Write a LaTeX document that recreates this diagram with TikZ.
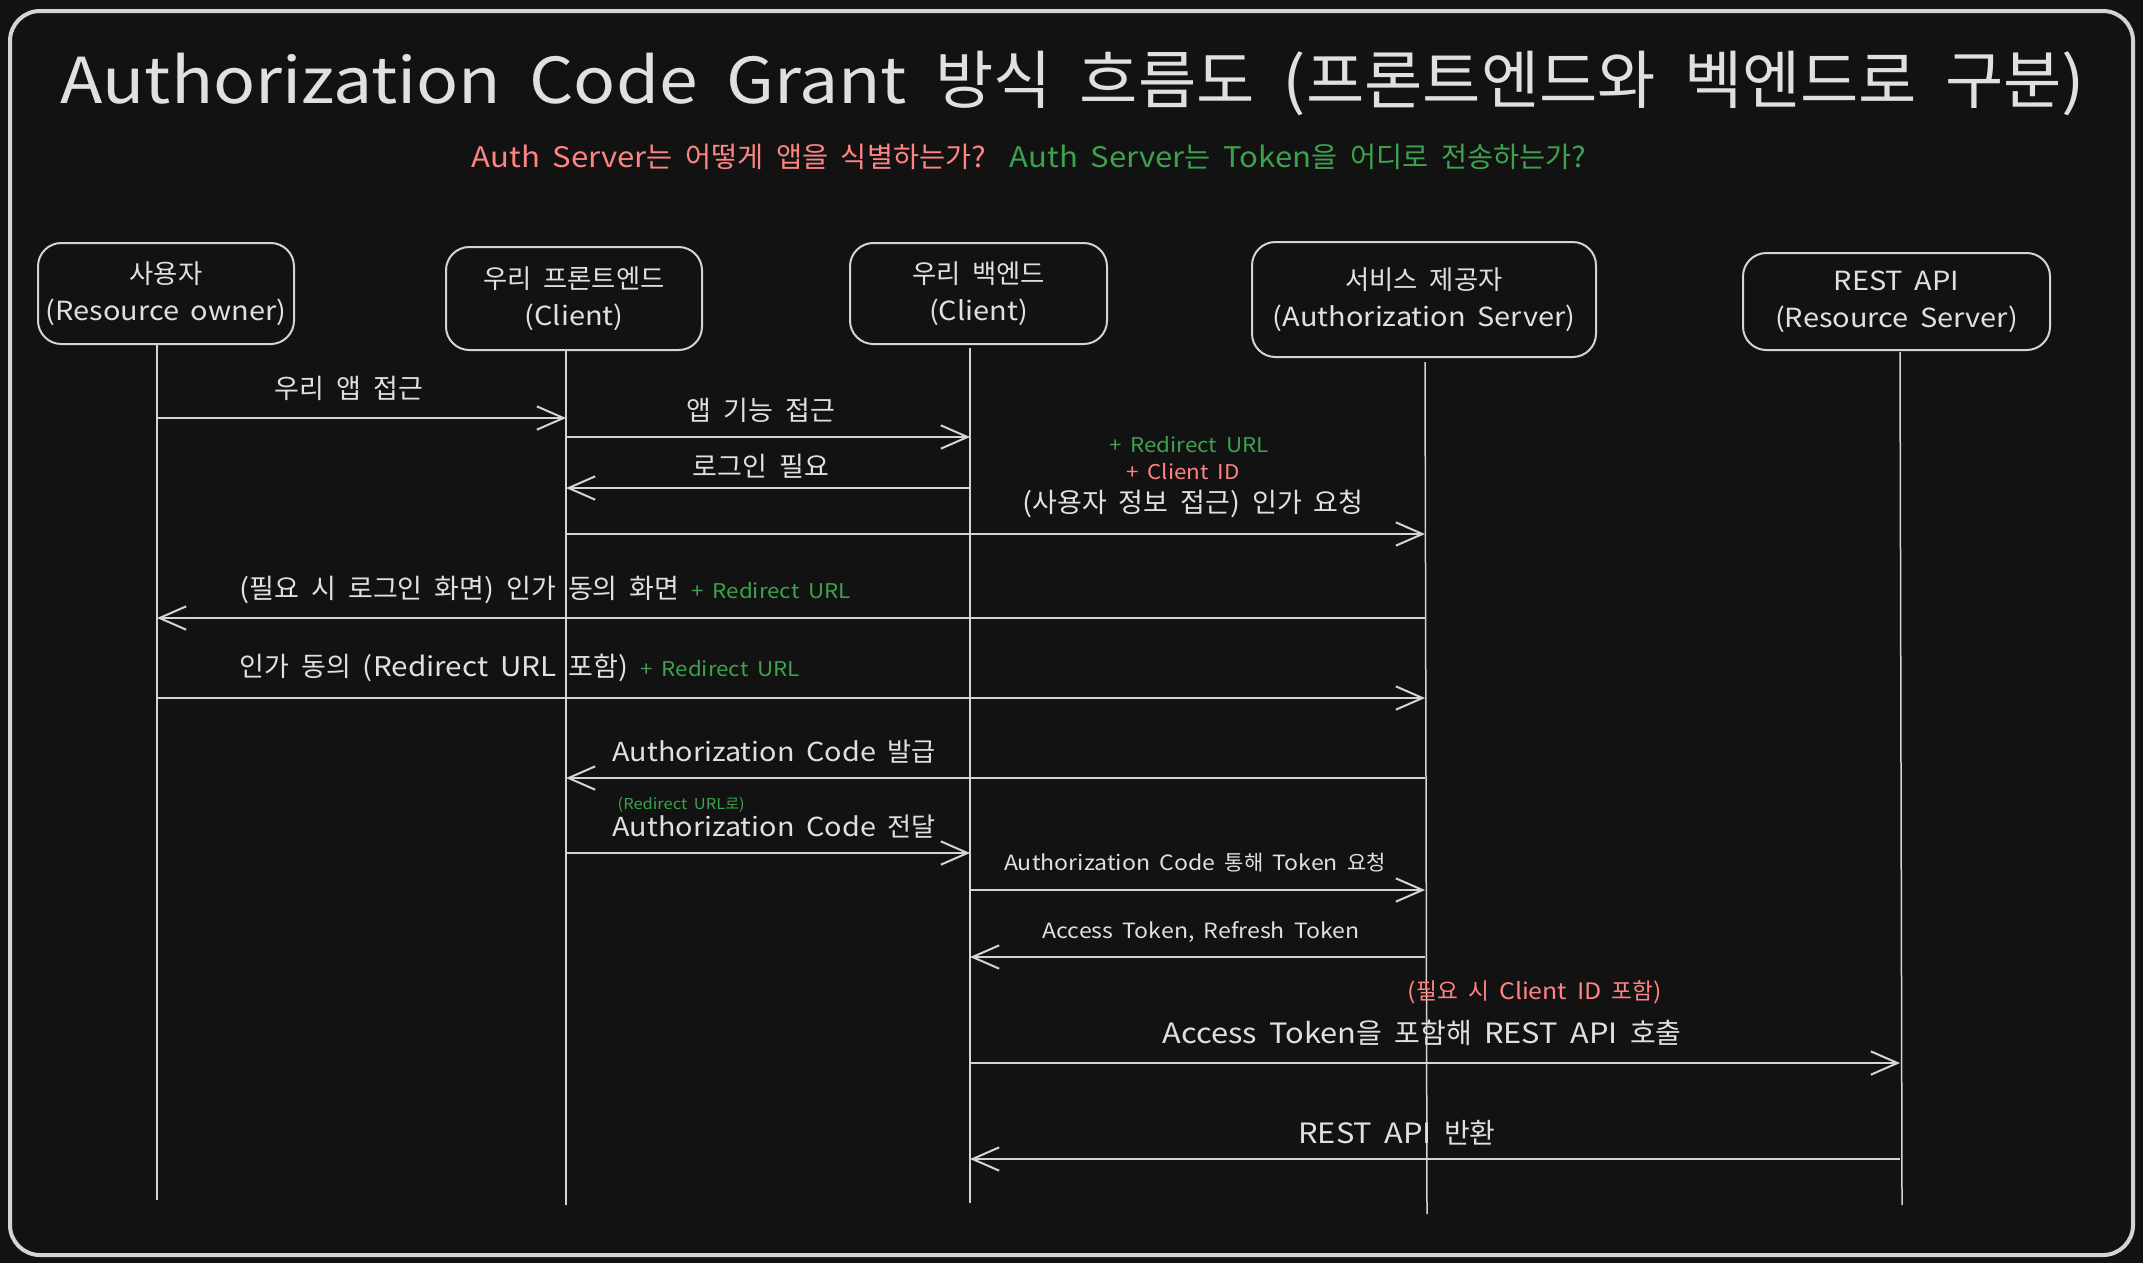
\documentclass[tikz,border=0pt]{standalone}
\usepackage{fontspec}
\setmainfont{Noto Sans CJK KR}[FakeStretch=1.1,WordSpace=1.8]
\newfontfamily\krfont{Noto Sans CJK KR}[WordSpace=1.8]
\XeTeXinterchartokenstate=1
\newXeTeXintercharclass\hangulclass
\count255="AC00
\loop
  \XeTeXcharclass\count255=\hangulclass
  \ifnum\count255<"D7A3 \advance\count255 by 1
\repeat
\XeTeXinterchartoks 0 \hangulclass = {\begingroup\krfont}
\XeTeXinterchartoks 4095 \hangulclass = {\begingroup\krfont}
\XeTeXinterchartoks \hangulclass 0 = {\endgroup}
\XeTeXinterchartoks \hangulclass 4095 = {\endgroup}
\usetikzlibrary{arrows.meta}
\definecolor{bg}{HTML}{121212}
\definecolor{ink}{HTML}{E0E0E0}
\definecolor{strk}{HTML}{D4D4D4}
\definecolor{redt}{HTML}{FF8383}
\definecolor{greent}{HTML}{3DA24E}
\begin{document}
\begin{tikzpicture}[x=0.3pt,y=-0.3pt,
  titlef/.style={text=ink,font=\fontsize{19}{22}\selectfont},
  subf/.style={font=\fontsize{8.5}{10}\selectfont},
  actor/.style={draw=strk,line width=0.6pt,rounded corners=7pt,text=ink,align=center,font=\fontsize{7.9}{11.1}\selectfont,inner sep=0pt},
  life/.style={draw=strk,line width=0.45pt},
  msg/.style={draw=strk,line width=0.6pt,-{Straight Barb[length=8pt,width=7pt,line width=0.6pt]}},
  lab/.style={text=ink,font=\fontsize{8.1}{9}\selectfont,inner sep=0pt},
  labc/.style={text=ink,font=\fontsize{7.85}{9}\selectfont,inner sep=0pt},
  labm/.style={text=ink,font=\fontsize{6.3}{8}\selectfont,inner sep=0pt},
  labb/.style={text=ink,font=\fontsize{8.4}{10}\selectfont,inner sep=0pt},
  note/.style={font=\fontsize{6.1}{7}\selectfont,inner sep=0pt},
  tiny/.style={font=\fontsize{4.5}{5}\selectfont,inner sep=0pt}
]
\fill[bg] (0,0) rectangle (2143,1263);
\useasboundingbox (0,0) rectangle (2143,1263);
\draw[strk,line width=1.2pt,rounded corners=9pt] (10,11) rectangle (2133,1255);

\node[titlef] (title) at (1073,84) {Authorization Code Grant 방식 흐름도 (프론트엔드와 벡엔드로 구분)};
\node[subf,text=redt,anchor=west,inner sep=0pt] (q1) at (471,157) {Auth Server는 어떻게 앱을 식별하는가?};
\node[subf,text=greent,anchor=west,inner sep=0pt] (q2) at (1009,157) {Auth Server는 Token을 어디로 전송하는가?};

\node[actor,minimum width=76.8pt,minimum height=30.3pt] (a1) at (166,293.5) {사용자\\(Resource owner)};
\node[actor,minimum width=76.8pt,minimum height=30.9pt] (a2) at (574,298.5) {우리 프론트엔드\\(Client)};
\node[actor,minimum width=77.1pt,minimum height=30.3pt] (a3) at (978.5,293.5) {우리 백엔드\\(Client)};
\node[actor,minimum width=103.2pt,minimum height=34.5pt] (a4) at (1424,299.5) {서비스 제공자\\(Authorization Server)};
\node[actor,minimum width=92.1pt,minimum height=29.1pt] (a5) at (1896.5,301.5) {REST API\\(Resource Server)};

\coordinate (l1t) at (157,345);  \coordinate (l1b) at (157,1200);
\coordinate (l2t) at (566,351);  \coordinate (l2b) at (566,1205);
\coordinate (l3t) at (970,348);  \coordinate (l3b) at (970,1203);
\coordinate (l4t) at (1425,362); \coordinate (l4b) at (1427,1214);
\coordinate (l5t) at (1900,352); \coordinate (l5b) at (1902,1205);
\draw[life] (l1t) -- (l1b);
\draw[life] (l2t) -- (l2b);
\draw[life] (l3t) -- (l3b);
\draw[life] (l4t) -- (l4b);
\draw[life] (l5t) -- (l5b);

% 1
\node[lab] (t1) at (349,388) {우리 앱 접근};
\draw[msg] (l1t |- 0,418) -- (l2t |- 0,418);
% 2
\node[lab] (t2) at (761,410) {앱 기능 접근};
\draw[msg] (l2t |- 0,437) -- (l3t |- 0,437);
% 3
\node[lab] (t3) at (761,466) {로그인 필요};
\draw[msg] (l3t |- 0,488) -- (l2t |- 0,488);
% 4
\node[note,text=greent] (n4a) at (1189,445) {+ Redirect URL};
\node[note,text=redt] (n4b) at (1183,472) {+ Client ID};
\node[lab] (t4) at (1193,504) {(사용자 정보 접근) 인가 요청};
\draw[msg] (l2t |- 0,534) -- (l4t |- 0,534);
% 5
\node[lab,anchor=base west] (t5) at (239,598) {(필요 시 로그인 화면) 인가 동의 화면\ {\color{greent}\fontsize{6.1}{7}\selectfont + Redirect URL}};
\draw[msg] (l4t |- 0,618) -- (l1t |- 0,618);
% 6
\node[lab,anchor=base west] (t6) at (239,676) {인가 동의 (Redirect URL 포함)\ {\color{greent}\fontsize{6.1}{7}\selectfont + Redirect URL}};
\draw[msg] (l1t |- 0,698) -- (l4t |- 0,698);
% 7
\node[labc,anchor=west] (t7) at (612,752) {Authorization Code 발급};
\draw[msg] (l4t |- 0,778) -- (l2t |- 0,778);
% 8
\node[tiny,text=greent,anchor=west] (n8) at (617,805) {(Redirect URL로)};
\node[labc,anchor=west] (t8) at (612,827) {Authorization Code 전달};
\draw[msg] (l2t |- 0,853) -- (l3t |- 0,853);
% 9
\node[labm] (t9) at (1195,863) {Authorization Code 통해 Token 요청};
\draw[msg] (l3t |- 0,890) -- (l4t |- 0,890);
% 10
\node[labm] (t10) at (1201,932) {Access Token, Refresh Token};
\draw[msg] (l4t |- 0,957) -- (l3t |- 0,957);
% 11
\node[note,text=redt,font=\fontsize{6.8}{8}\selectfont] (n11) at (1535,992) {(필요 시 Client ID 포함)};
\node[labb] (t11) at (1422,1033) {Access Token을 포함해 REST API 호출};
\draw[msg] (l3t |- 0,1063) -- (l5t |- 0,1063);
% 12
\node[labb] (t12) at (1397,1133) {REST API 반환};
\draw[msg] (l5t |- 0,1159) -- (l3t |- 0,1159);
\end{tikzpicture}
\end{document}
